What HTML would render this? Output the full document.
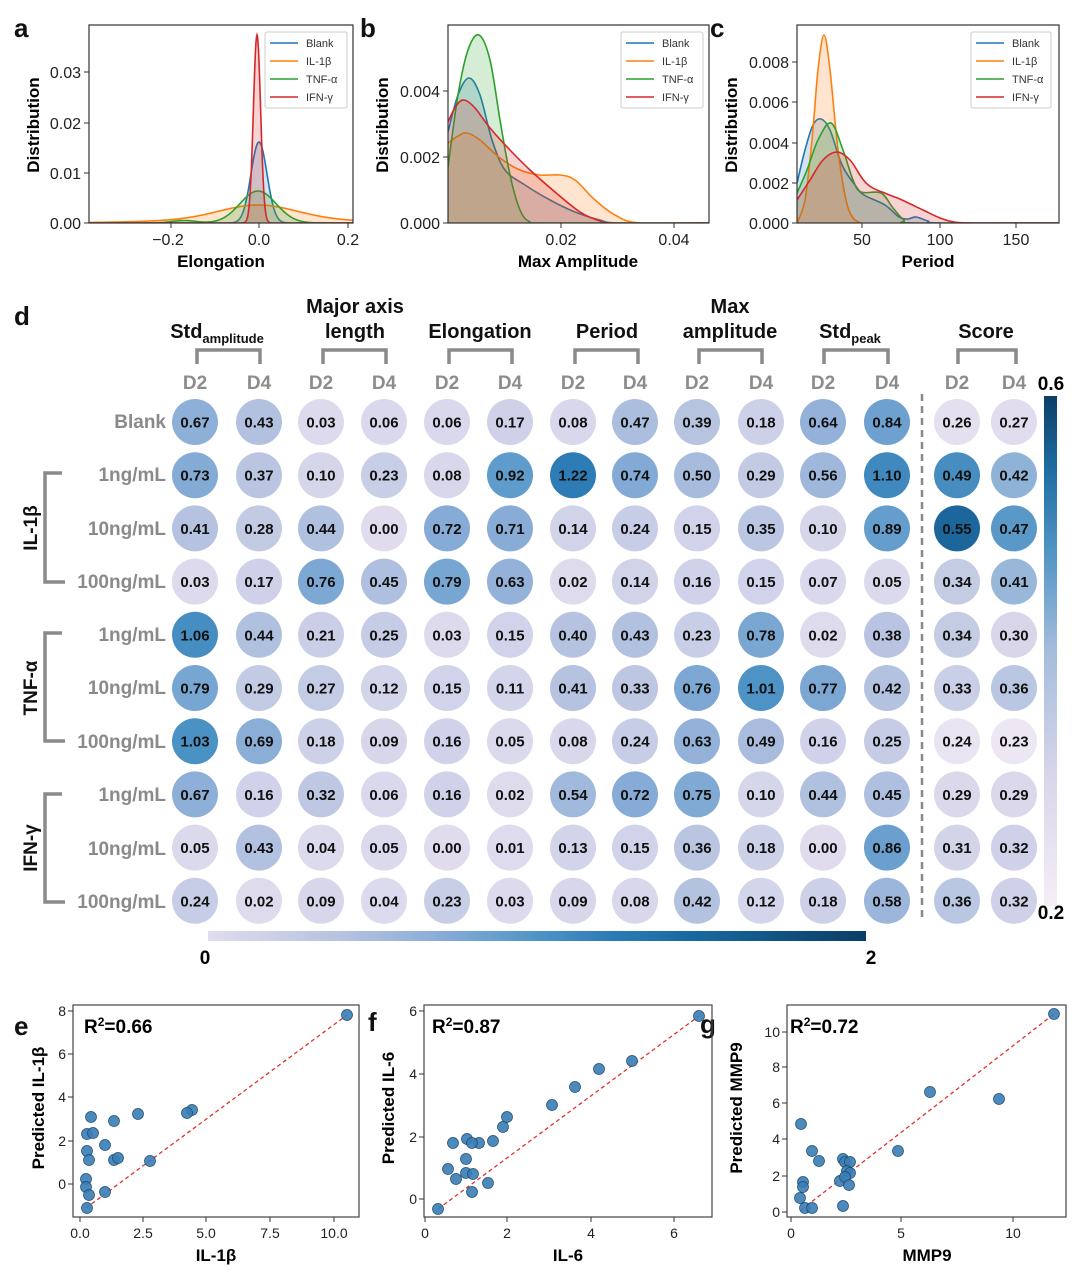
<!DOCTYPE html>
<html><head><meta charset="utf-8"><style>
body{margin:0;background:#fff}
svg{display:block;font-family:"Liberation Sans",sans-serif}
.t{font-size:16px;fill:#222}
.xl{font-size:17px;font-weight:bold;text-anchor:middle}
.lg{font-size:11px;fill:#333}
.h{font-size:20px;font-weight:bold;text-anchor:middle;fill:#111}
.dd{font-size:19px;fill:#8c8c8c;text-anchor:middle;font-weight:600}
.rl{font-size:19px;font-weight:bold;fill:#8a8a8a;text-anchor:end}
.gl{font-size:19px;font-weight:bold;fill:#111;text-anchor:middle}
.cv{font-size:15px;font-weight:bold;fill:#111;text-anchor:middle}
.lt{font-size:26px;font-weight:bold;fill:#111}
.bt{font-size:14px;fill:#222}
</style></head><body>
<svg id="s" width="1080" height="1276" viewBox="0 0 1080 1276" xmlns="http://www.w3.org/2000/svg">
<defs>
<clipPath id="ca"><rect x="89" y="25" width="264" height="198"/></clipPath>
<clipPath id="cb"><rect x="448" y="25" width="261" height="198"/></clipPath>
<clipPath id="cc"><rect x="797" y="25" width="262" height="198"/></clipPath>
<linearGradient id="gh" x1="0" x2="1" y1="0" y2="0">
<stop offset="0" stop-color="#e0dcee"/><stop offset="0.2" stop-color="#b6c3e0"/><stop offset="0.35" stop-color="#8aadd7"/><stop offset="0.5" stop-color="#4f94c6"/><stop offset="0.62" stop-color="#2a7ab5"/><stop offset="0.75" stop-color="#17679e"/><stop offset="1" stop-color="#0a3d64"/></linearGradient>
<linearGradient id="gv" x1="0" x2="0" y1="1" y2="0">
<stop offset="0" stop-color="#f4eef6"/><stop offset="0.25" stop-color="#d9d6ea"/><stop offset="0.5" stop-color="#a4bddc"/><stop offset="0.7" stop-color="#4f93c4"/><stop offset="0.85" stop-color="#1f6ea5"/><stop offset="1" stop-color="#0b3f66"/></linearGradient>
</defs>

<text class="lt" x="14" y="37">a</text><text class="lt" x="360" y="37">b</text><text class="lt" x="710" y="37">c</text>

<g id="pa" clip-path="url(#ca)"></g>
<rect x="89" y="25" width="264" height="198" fill="none" stroke="#333" stroke-width="1.2"/>
<g stroke="#333"><line x1="84" x2="89" y1="223" y2="223"/><line x1="84" x2="89" y1="173" y2="173"/><line x1="84" x2="89" y1="123" y2="123"/><line x1="84" x2="89" y1="72" y2="72"/>
<line x1="171" x2="171" y1="223" y2="228"/><line x1="259" x2="259" y1="223" y2="228"/><line x1="348" x2="348" y1="223" y2="228"/></g>
<g class="t" text-anchor="end"><text x="81" y="229">0.00</text><text x="81" y="179">0.01</text><text x="81" y="129">0.02</text><text x="81" y="78">0.03</text></g>
<g class="t" text-anchor="middle"><text x="168" y="245">−0.2</text><text x="259" y="245">0.0</text><text x="348" y="245">0.2</text></g>
<text class="xl" x="221" y="267">Elongation</text>
<text class="xl" transform="translate(39,125) rotate(-90)">Distribution</text>

<g id="pb" clip-path="url(#cb)"></g>
<rect x="448" y="25" width="261" height="198" fill="none" stroke="#333" stroke-width="1.2"/>
<g stroke="#333"><line x1="443" x2="448" y1="223" y2="223"/><line x1="443" x2="448" y1="157" y2="157"/><line x1="443" x2="448" y1="91" y2="91"/>
<line x1="561" x2="561" y1="223" y2="228"/><line x1="674" x2="674" y1="223" y2="228"/></g>
<g class="t" text-anchor="end"><text x="440" y="229">0.000</text><text x="440" y="163">0.002</text><text x="440" y="97">0.004</text></g>
<g class="t" text-anchor="middle"><text x="561" y="245">0.02</text><text x="674" y="245">0.04</text></g>
<text class="xl" x="578" y="267">Max Amplitude</text>
<text class="xl" transform="translate(388,125) rotate(-90)">Distribution</text>

<g id="pc" clip-path="url(#cc)"></g>
<rect x="797" y="25" width="262" height="198" fill="none" stroke="#333" stroke-width="1.2"/>
<g stroke="#333"><line x1="792" x2="797" y1="223" y2="223"/><line x1="792" x2="797" y1="183" y2="183"/><line x1="792" x2="797" y1="143" y2="143"/><line x1="792" x2="797" y1="102" y2="102"/><line x1="792" x2="797" y1="62" y2="62"/>
<line x1="862" x2="862" y1="223" y2="228"/><line x1="940" x2="940" y1="223" y2="228"/><line x1="1016" x2="1016" y1="223" y2="228"/></g>
<g class="t" text-anchor="end"><text x="789" y="229">0.000</text><text x="789" y="189">0.002</text><text x="789" y="149">0.004</text><text x="789" y="108">0.006</text><text x="789" y="68">0.008</text></g>
<g class="t" text-anchor="middle"><text x="862" y="245">50</text><text x="940" y="245">100</text><text x="1016" y="245">150</text></g>
<text class="xl" x="928" y="267">Period</text>
<text class="xl" transform="translate(737,125) rotate(-90)">Distribution</text>

<g id="legs">
<g transform="translate(265,32)"><rect width="82" height="76" fill="#fff" fill-opacity="0.85" stroke="#ccc" rx="2"/>
<line x1="5" x2="33" y1="11" y2="11" stroke="#1f77b4" stroke-width="1.5"/><text class="lg" x="41" y="15">Blank</text>
<line x1="5" x2="33" y1="29" y2="29" stroke="#ff7f0e" stroke-width="1.5"/><text class="lg" x="41" y="33">IL-1β</text>
<line x1="5" x2="33" y1="47" y2="47" stroke="#2ca02c" stroke-width="1.5"/><text class="lg" x="41" y="51">TNF-α</text>
<line x1="5" x2="33" y1="65" y2="65" stroke="#d62728" stroke-width="1.5"/><text class="lg" x="41" y="69">IFN-γ</text></g>
<g transform="translate(621,32)"><rect width="82" height="76" fill="#fff" fill-opacity="0.85" stroke="#ccc" rx="2"/>
<line x1="5" x2="33" y1="11" y2="11" stroke="#1f77b4" stroke-width="1.5"/><text class="lg" x="41" y="15">Blank</text>
<line x1="5" x2="33" y1="29" y2="29" stroke="#ff7f0e" stroke-width="1.5"/><text class="lg" x="41" y="33">IL-1β</text>
<line x1="5" x2="33" y1="47" y2="47" stroke="#2ca02c" stroke-width="1.5"/><text class="lg" x="41" y="51">TNF-α</text>
<line x1="5" x2="33" y1="65" y2="65" stroke="#d62728" stroke-width="1.5"/><text class="lg" x="41" y="69">IFN-γ</text></g>
<g transform="translate(971,32)"><rect width="80" height="76" fill="#fff" fill-opacity="0.85" stroke="#ccc" rx="2"/>
<line x1="5" x2="33" y1="11" y2="11" stroke="#1f77b4" stroke-width="1.5"/><text class="lg" x="41" y="15">Blank</text>
<line x1="5" x2="33" y1="29" y2="29" stroke="#ff7f0e" stroke-width="1.5"/><text class="lg" x="41" y="33">IL-1β</text>
<line x1="5" x2="33" y1="47" y2="47" stroke="#2ca02c" stroke-width="1.5"/><text class="lg" x="41" y="51">TNF-α</text>
<line x1="5" x2="33" y1="65" y2="65" stroke="#d62728" stroke-width="1.5"/><text class="lg" x="41" y="69">IFN-γ</text></g>
</g>

<text class="lt" x="14" y="325">d</text>
<text class="h" x="217" y="338">Std<tspan font-size="13" dy="5">amplitude</tspan></text>
<text class="h" x="355" y="313">Major axis</text><text class="h" x="355" y="338">length</text>
<text class="h" x="480" y="338">Elongation</text>
<text class="h" x="607" y="338">Period</text>
<text class="h" x="730" y="313">Max</text><text class="h" x="730" y="338">amplitude</text>
<text class="h" x="850" y="338">Std<tspan font-size="13" dy="5">peak</tspan></text>
<text class="h" x="986" y="338">Score</text>
<g fill="none" stroke="#8a8a8a" stroke-width="3.5">
<path d="M197 364V350H260V364"/><path d="M323 364V350H386V364"/><path d="M449 364V350H512V364"/><path d="M575 364V350H638V364"/><path d="M699 364V350H762V364"/><path d="M824 364V350H888V364"/><path d="M958 364V350H1016V364"/>
<path d="M62 473H45V582H65"/><path d="M62 633H45V741H65"/><path d="M62 794H45V902H65"/>
</g>
<g class="dd">
<text x="195" y="389">D2</text><text x="259" y="389">D4</text><text x="321" y="389">D2</text><text x="384" y="389">D4</text><text x="447" y="389">D2</text><text x="510" y="389">D4</text><text x="573" y="389">D2</text><text x="635" y="389">D4</text><text x="697" y="389">D2</text><text x="761" y="389">D4</text><text x="823" y="389">D2</text><text x="887" y="389">D4</text><text x="957" y="389">D2</text><text x="1014" y="389">D4</text>
</g>
<g class="rl">
<text x="166" y="428">Blank</text><text x="166" y="481">1ng/mL</text><text x="166" y="535">10ng/mL</text><text x="166" y="588">100ng/mL</text>
<text x="166" y="641">1ng/mL</text><text x="166" y="694">10ng/mL</text><text x="166" y="748">100ng/mL</text>
<text x="166" y="801">1ng/mL</text><text x="166" y="855">10ng/mL</text><text x="166" y="908">100ng/mL</text>
</g>
<text class="gl" transform="translate(37,528) rotate(-90)">IL-1β</text>
<text class="gl" transform="translate(37,688) rotate(-90)">TNF-α</text>
<text class="gl" transform="translate(37,848) rotate(-90)">IFN-γ</text>
<line x1="922" x2="922" y1="394" y2="922" stroke="#888" stroke-width="2.5" stroke-dasharray="7,5"/>
<g id="circ"></g>
<g id="vals" class="cv">
<text>0.67</text><text>0.43</text><text>0.03</text><text>0.06</text><text>0.06</text><text>0.17</text><text>0.08</text><text>0.47</text><text>0.39</text><text>0.18</text><text>0.64</text><text>0.84</text><text>0.26</text><text>0.27</text>
<text>0.73</text><text>0.37</text><text>0.10</text><text>0.23</text><text>0.08</text><text>0.92</text><text>1.22</text><text>0.74</text><text>0.50</text><text>0.29</text><text>0.56</text><text>1.10</text><text>0.49</text><text>0.42</text>
<text>0.41</text><text>0.28</text><text>0.44</text><text>0.00</text><text>0.72</text><text>0.71</text><text>0.14</text><text>0.24</text><text>0.15</text><text>0.35</text><text>0.10</text><text>0.89</text><text>0.55</text><text>0.47</text>
<text>0.03</text><text>0.17</text><text>0.76</text><text>0.45</text><text>0.79</text><text>0.63</text><text>0.02</text><text>0.14</text><text>0.16</text><text>0.15</text><text>0.07</text><text>0.05</text><text>0.34</text><text>0.41</text>
<text>1.06</text><text>0.44</text><text>0.21</text><text>0.25</text><text>0.03</text><text>0.15</text><text>0.40</text><text>0.43</text><text>0.23</text><text>0.78</text><text>0.02</text><text>0.38</text><text>0.34</text><text>0.30</text>
<text>0.79</text><text>0.29</text><text>0.27</text><text>0.12</text><text>0.15</text><text>0.11</text><text>0.41</text><text>0.33</text><text>0.76</text><text>1.01</text><text>0.77</text><text>0.42</text><text>0.33</text><text>0.36</text>
<text>1.03</text><text>0.69</text><text>0.18</text><text>0.09</text><text>0.16</text><text>0.05</text><text>0.08</text><text>0.24</text><text>0.63</text><text>0.49</text><text>0.16</text><text>0.25</text><text>0.24</text><text>0.23</text>
<text>0.67</text><text>0.16</text><text>0.32</text><text>0.06</text><text>0.16</text><text>0.02</text><text>0.54</text><text>0.72</text><text>0.75</text><text>0.10</text><text>0.44</text><text>0.45</text><text>0.29</text><text>0.29</text>
<text>0.05</text><text>0.43</text><text>0.04</text><text>0.05</text><text>0.00</text><text>0.01</text><text>0.13</text><text>0.15</text><text>0.36</text><text>0.18</text><text>0.00</text><text>0.86</text><text>0.31</text><text>0.32</text>
<text>0.24</text><text>0.02</text><text>0.09</text><text>0.04</text><text>0.23</text><text>0.03</text><text>0.09</text><text>0.08</text><text>0.42</text><text>0.12</text><text>0.18</text><text>0.58</text><text>0.36</text><text>0.32</text>
</g>
<rect x="1044" y="396" width="13" height="510" fill="url(#gv)"/>
<text x="1051" y="390" font-size="19" font-weight="bold" text-anchor="middle">0.6</text>
<text x="1051" y="919" font-size="19" font-weight="bold" text-anchor="middle">0.2</text>
<rect x="208" y="931" width="658" height="10" fill="url(#gh)"/>
<text x="205" y="964" font-size="19" font-weight="bold" text-anchor="middle">0</text>
<text x="871" y="964" font-size="19" font-weight="bold" text-anchor="middle">2</text>

<text class="lt" x="14" y="1035">e</text><text class="lt" x="368" y="1031">f</text><text class="lt" x="700" y="1033">g</text>
<rect x="73" y="1005" width="286" height="212" fill="none" stroke="#444" stroke-width="1.2"/>
<line x1="86" y1="1208" x2="347" y2="1015" stroke="#e0322a" stroke-width="1.3" stroke-dasharray="4,3"/>
<g id="pe"></g>
<g stroke="#333"><line x1="68" x2="73" y1="1011" y2="1011"/><line x1="68" x2="73" y1="1054" y2="1054"/><line x1="68" x2="73" y1="1097" y2="1097"/><line x1="68" x2="73" y1="1141" y2="1141"/><line x1="68" x2="73" y1="1184" y2="1184"/>
<line x1="80" x2="80" y1="1217" y2="1222"/><line x1="143" x2="143" y1="1217" y2="1222"/><line x1="206" x2="206" y1="1217" y2="1222"/><line x1="270" x2="270" y1="1217" y2="1222"/><line x1="334" x2="334" y1="1217" y2="1222"/></g>
<g class="bt" text-anchor="end"><text x="66" y="1016">8</text><text x="66" y="1059">6</text><text x="66" y="1102">4</text><text x="66" y="1146">2</text><text x="66" y="1189">0</text></g>
<g class="bt" text-anchor="middle"><text x="80" y="1238">0.0</text><text x="143" y="1238">2.5</text><text x="206" y="1238">5.0</text><text x="270" y="1238">7.5</text><text x="334" y="1238">10.0</text></g>
<text x="84" y="1033" font-size="19" font-weight="bold">R<tspan font-size="12" dy="-7">2</tspan><tspan dy="7">=0.66</tspan></text>
<text class="xl" font-size="16" x="216" y="1261">IL-1β</text>
<text class="xl" font-size="16" transform="translate(44,1108) rotate(-90)">Predicted IL-1β</text>
<rect x="424" y="1005" width="288" height="212" fill="none" stroke="#444" stroke-width="1.2"/>
<line x1="438" y1="1209" x2="699" y2="1016" stroke="#e0322a" stroke-width="1.3" stroke-dasharray="4,3"/>
<g id="pf"></g>
<g stroke="#333"><line x1="419" x2="424" y1="1011" y2="1011"/><line x1="419" x2="424" y1="1074" y2="1074"/><line x1="419" x2="424" y1="1137" y2="1137"/><line x1="419" x2="424" y1="1199" y2="1199"/>
<line x1="425" x2="425" y1="1217" y2="1222"/><line x1="507" x2="507" y1="1217" y2="1222"/><line x1="591" x2="591" y1="1217" y2="1222"/><line x1="674" x2="674" y1="1217" y2="1222"/></g>
<g class="bt" text-anchor="end"><text x="417" y="1016">6</text><text x="417" y="1079">4</text><text x="417" y="1142">2</text><text x="417" y="1204">0</text></g>
<g class="bt" text-anchor="middle"><text x="425" y="1238">0</text><text x="507" y="1238">2</text><text x="591" y="1238">4</text><text x="674" y="1238">6</text></g>
<text x="432" y="1033" font-size="19" font-weight="bold">R<tspan font-size="12" dy="-7">2</tspan><tspan dy="7">=0.87</tspan></text>
<text class="xl" font-size="16" x="568" y="1261">IL-6</text>
<text class="xl" font-size="16" transform="translate(394,1108) rotate(-90)">Predicted IL-6</text>
<rect x="787" y="1005" width="279" height="212" fill="none" stroke="#444" stroke-width="1.2"/>
<line x1="801" y1="1210" x2="1054" y2="1014" stroke="#e0322a" stroke-width="1.3" stroke-dasharray="4,3"/>
<g id="pg"></g>
<g stroke="#333"><line x1="782" x2="787" y1="1032" y2="1032"/><line x1="782" x2="787" y1="1067" y2="1067"/><line x1="782" x2="787" y1="1103" y2="1103"/><line x1="782" x2="787" y1="1139" y2="1139"/><line x1="782" x2="787" y1="1176" y2="1176"/><line x1="782" x2="787" y1="1212" y2="1212"/>
<line x1="791" x2="791" y1="1217" y2="1222"/><line x1="901" x2="901" y1="1217" y2="1222"/><line x1="1013" x2="1013" y1="1217" y2="1222"/></g>
<g class="bt" text-anchor="end"><text x="780" y="1037">10</text><text x="780" y="1072">8</text><text x="780" y="1108">6</text><text x="780" y="1144">4</text><text x="780" y="1181">2</text><text x="780" y="1217">0</text></g>
<g class="bt" text-anchor="middle"><text x="791" y="1238">0</text><text x="901" y="1238">5</text><text x="1013" y="1238">10</text></g>
<text x="790" y="1033" font-size="19" font-weight="bold">R<tspan font-size="12" dy="-7">2</tspan><tspan dy="7">=0.72</tspan></text>
<text class="xl" font-size="16" x="927" y="1261">MMP9</text>
<text class="xl" font-size="16" transform="translate(742,1108) rotate(-90)">Predicted MMP9</text>
</svg>
<script>
var NS="http://www.w3.org/2000/svg";
function el(t,a,p){var e=document.createElementNS(NS,t);for(var k in a)e.setAttribute(k,a[k]);p.appendChild(e);return e;}
var C=["#1f77b4","#ff7f0e","#2ca02c","#d62728"];
function cr(pts){var d="M"+pts[0][0]+","+pts[0][1];for(var i=0;i<pts.length-1;i++){var p0=pts[Math.max(0,i-1)],p1=pts[i],p2=pts[i+1],p3=pts[Math.min(pts.length-1,i+2)];
d+=" C"+(p1[0]+(p2[0]-p0[0])/6).toFixed(1)+","+(p1[1]+(p2[1]-p0[1])/6).toFixed(1)+" "+(p2[0]-(p3[0]-p1[0])/6).toFixed(1)+","+(p2[1]-(p3[1]-p1[1])/6).toFixed(1)+" "+p2[0]+","+p2[1];}return d;}
function drawSet(g,sets,base){sets.forEach(function(pts,i){var d=cr(pts);var x0=pts[0][0],x1=pts[pts.length-1][0];
el("path",{d:d+" L"+x1+","+base+" L"+x0+","+base+" Z",fill:C[i],"fill-opacity":0.2,stroke:"none"},g);
el("path",{d:d,fill:"none",stroke:C[i],"stroke-width":1.6},g);});}
function gauss(terms){var p=[];for(var x=89;x<=353;x+=0.5){var y=0;terms.forEach(function(t){y+=t[0]*Math.exp(-Math.pow(x-t[1],2)/(2*t[2]*t[2]));});p.push([x,+(223-y).toFixed(2)]);}return p;}
function drawG(g,sets){sets.forEach(function(pts,i){var d="M"+pts.map(function(q){return q.join(",")}).join(" L");
el("path",{d:d+" L353,223 L89,223 Z",fill:C[i],"fill-opacity":0.2},g);el("path",{d:d,fill:"none",stroke:C[i],"stroke-width":1.6},g);});}
drawG(document.getElementById("pa"),[gauss([[81,259,8]]),gauss([[14,258,38],[4,258,85]]),gauss([[32,258,18],[2.5,184,12]]),gauss([[188,257,3.6]])]);
drawSet(document.getElementById("pb"),[
[[448,132],[458,95],[469,78],[480,95],[492,140],[505,170],[525,185],[550,200],[575,212],[600,220],[620,223],[709,223]],
[[448,143],[458,136],[467,133],[480,140],[500,158],[520,170],[540,175],[560,175],[575,180],[595,200],[615,215],[640,223],[709,223]],
[[448,167],[458,95],[468,50],[479,35],[490,60],[500,120],[510,175],[520,210],[530,222],[545,223],[709,223]],
[[448,122],[456,106],[464,100],[475,108],[490,128],[510,150],[530,170],[555,192],[580,212],[600,221],[615,223],[709,223]]],223);
drawSet(document.getElementById("pc"),[
[[797,183],[805,150],[813,125],[821,119],[830,130],[842,165],[855,185],[864,195],[885,205],[899,217],[908,219],[916,217],[928,221],[940,223],[1059,223]],
[[797,223],[805,200],[812,140],[818,70],[824,35],[830,70],[838,150],[846,200],[853,218],[861,223]],
[[797,193],[807,170],[818,140],[831,123],[843,150],[853,180],[861,192],[881,193],[893,208],[904,220],[915,223],[1059,223]],
[[797,200],[810,180],[823,160],[837,152],[850,160],[862,178],[871,187],[887,194],[902,200],[923,210],[940,218],[954,222],[975,223],[1059,223]]],223);
function hex(h){return [parseInt(h.substr(1,2),16),parseInt(h.substr(3,2),16),parseInt(h.substr(5,2),16)];}
function cmap(st,t){t=Math.max(0,Math.min(1,t));for(var i=0;i<st.length-1;i++){if(t<=st[i+1][0]){var f=(t-st[i][0])/(st[i+1][0]-st[i][0]);var a=hex(st[i][1]),b=hex(st[i+1][1]);
return "rgb("+a.map(function(v,k){return Math.round(v+(b[k]-v)*f)}).join(",")+")";}}return st[st.length-1][1];}
var S1=[[0,"#e0dcee"],[0.2,"#b6c3e0"],[0.35,"#8aadd7"],[0.5,"#4f94c6"],[0.62,"#2a7ab5"],[0.75,"#17679e"],[1,"#0a3d64"]];
var S2=[[0,"#f4eef6"],[0.25,"#d9d6ea"],[0.5,"#a4bddc"],[0.7,"#4f93c4"],[0.85,"#1f6ea5"],[1,"#0b3f66"]];
var cx=[195,259,321,384,447,510,573,635,697,761,823,887,957,1014];
var cg=document.getElementById("circ");var ts=document.getElementById("vals").getElementsByTagName("text");
for(var i=0;i<ts.length;i++){var r=Math.floor(i/14),c=i%14,v=parseFloat(ts[i].textContent);var y=422+r*53.2;
var col=c<12?cmap(S1,v/2):cmap(S2,(v-0.2)/0.4);
el("circle",{cx:cx[c],cy:y.toFixed(1),r:23,fill:col},cg);ts[i].setAttribute("x",cx[c]);ts[i].setAttribute("y",(y+5.5).toFixed(1));}
function pts(id,arr){var g=document.getElementById(id);arr.forEach(function(p){el("circle",{cx:p[0],cy:p[1],r:5.5,fill:"#3a7db5","fill-opacity":0.9,stroke:"#1c4a70","stroke-width":0.7},g);});}
pts("pe",[[347,1015],[192,1110],[187,1113],[138,1114],[114,1121],[91,1117],[87,1134],[93,1133],[105,1145],[87,1151],[89,1160],[114,1160],[118,1158],[150,1161],[86,1179],[86,1187],[89,1195],[105,1192],[87,1208]]);
pts("pf",[[699,1016],[632,1061],[599,1069],[575,1087],[552,1105],[507,1117],[503,1127],[493,1141],[479,1143],[467,1139],[472,1143],[453,1143],[448,1169],[466,1159],[466,1173],[473,1174],[456,1179],[488,1183],[472,1192],[438,1209]]);
pts("pg",[[1054,1014],[930,1092],[999,1099],[898,1151],[812,1151],[819,1161],[801,1124],[843,1159],[845,1162],[850,1162],[847,1171],[850,1173],[840,1181],[845,1177],[849,1185],[803,1182],[803,1187],[800,1198],[805,1208],[812,1208],[843,1206]]);
</script>
</body></html>
